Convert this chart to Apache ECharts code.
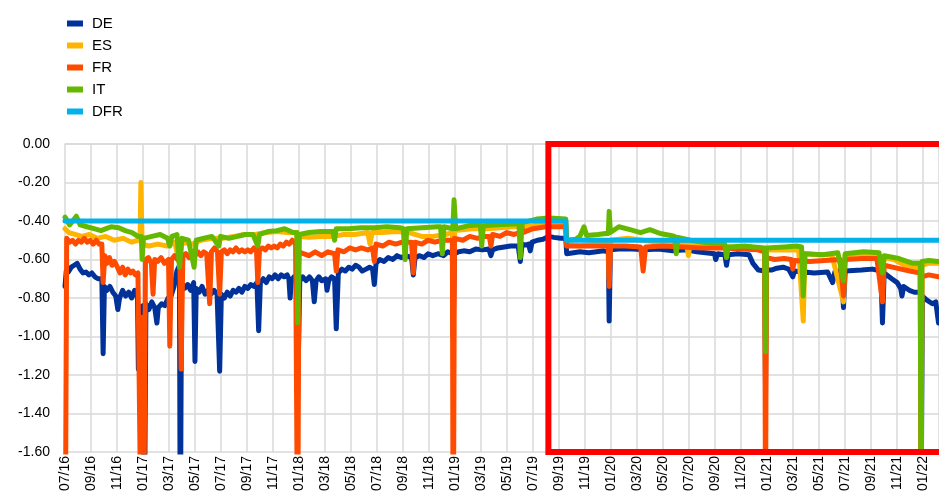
<!DOCTYPE html>
<html>
<head>
<meta charset="utf-8">
<script src="https://cdn.jsdelivr.net/npm/echarts@6/dist/echarts.min.js"></script>
<style>
  html, body { margin: 0; padding: 0; background: #fff; }
  #chart { width: 939px; height: 502px; }
</style>
</head>
<body>
<div id="chart"></div>
<script>
// tick labels of the x axis, one every two months from 07/16
var xTickLabels = ['07/16','09/16','11/16','01/17','03/17','05/17','07/17','09/17','11/17',
  '01/18','03/18','05/18','07/18','09/18','11/18','01/19','03/19','05/19','07/19','09/19',
  '11/19','01/20','03/20','05/20','07/20','09/20','11/20','01/21','03/21','05/21','07/21',
  '09/21','11/21','01/22'];
var startDate = '2016-07-01';
var endDate = '2022-02-08';

// red frame (date range and value range)
var boxStart = '2019-08-07';
var boxEnd = '2022-06-01';
var boxTop = 0.0;
var boxBottom = -1.6;

var de = [
  ['2016-07-01',-0.74],['2016-07-04',-0.66],['2016-07-09',-0.665],['2016-07-16',-0.64],['2016-07-23',-0.63],
  ['2016-07-30',-0.62],['2016-08-06',-0.65],['2016-08-13',-0.67],['2016-08-20',-0.665],['2016-08-27',-0.68],
  ['2016-09-03',-0.67],['2016-09-10',-0.69],['2016-09-17',-0.70],['2016-09-26',-0.70],['2016-09-29',-1.09],
  ['2016-10-02',-0.74],['2016-10-08',-0.76],['2016-10-15',-0.74],['2016-10-22',-0.77],['2016-10-29',-0.79],
  ['2016-11-03',-0.86],['2016-11-07',-0.80],['2016-11-14',-0.76],['2016-11-21',-0.79],['2016-11-28',-0.77],
  ['2016-12-05',-0.80],['2016-12-12',-0.76],['2016-12-17',-0.78],['2016-12-19',-0.80],['2016-12-21',-1.17],
  ['2016-12-24',-0.85],['2017-01-01',-0.84],['2017-01-04',-2.2],['2017-01-08',-0.83],['2017-01-15',-0.86],
  ['2017-01-22',-0.82],['2017-01-29',-0.85],['2017-02-01',-0.86],['2017-02-03',-0.93],['2017-02-06',-0.85],
  ['2017-02-13',-0.83],['2017-02-20',-0.84],['2017-02-27',-0.80],['2017-03-06',-0.79],['2017-03-13',-0.74],
  ['2017-03-20',-0.66],['2017-03-24',-0.64],['2017-03-26',-0.67],['2017-03-28',-2.2],['2017-03-31',-0.72],
  ['2017-04-07',-0.75],['2017-04-14',-0.73],['2017-04-21',-0.76],['2017-04-28',-0.72],['2017-05-01',-1.13],
  ['2017-05-04',-0.75],['2017-05-11',-0.77],['2017-05-18',-0.74],['2017-05-25',-0.78],['2017-06-01',-0.76],
  ['2017-06-08',-0.78],['2017-06-15',-0.76],['2017-06-22',-0.78],['2017-06-28',-1.18],['2017-07-02',-0.78],
  ['2017-07-09',-0.80],['2017-07-16',-0.77],['2017-07-23',-0.79],['2017-07-30',-0.76],['2017-08-06',-0.77],
  ['2017-08-13',-0.75],['2017-08-20',-0.77],['2017-08-27',-0.74],['2017-09-03',-0.75],['2017-09-10',-0.73],
  ['2017-09-17',-0.74],['2017-09-24',-0.72],['2017-09-28',-0.97],['2017-10-02',-0.72],['2017-10-09',-0.70],
  ['2017-10-16',-0.72],['2017-10-23',-0.69],['2017-10-30',-0.70],['2017-11-06',-0.68],['2017-11-13',-0.70],
  ['2017-11-20',-0.68],['2017-11-27',-0.69],['2017-12-04',-0.68],['2017-12-08',-0.70],['2017-12-11',-0.80],
  ['2017-12-14',-0.71],['2017-12-20',-0.69],['2017-12-26',-0.72],['2017-12-29',-1.30],['2018-01-03',-0.71],
  ['2018-01-10',-0.69],['2018-01-18',-0.71],['2018-01-26',-0.69],['2018-02-02',-0.71],['2018-02-06',-0.82],
  ['2018-02-10',-0.71],['2018-02-16',-0.69],['2018-02-22',-0.71],['2018-03-03',-0.70],['2018-03-06',-0.76],
  ['2018-03-10',-0.71],['2018-03-17',-0.69],['2018-03-24',-0.70],['2018-03-28',-0.96],['2018-04-02',-0.67],
  ['2018-04-10',-0.65],['2018-04-18',-0.66],['2018-04-26',-0.64],['2018-05-04',-0.65],['2018-05-12',-0.63],
  ['2018-05-20',-0.64],['2018-05-28',-0.66],['2018-06-06',-0.65],['2018-06-14',-0.64],['2018-06-21',-0.65],
  ['2018-06-25',-0.73],['2018-06-29',-0.62],['2018-07-08',-0.60],['2018-07-18',-0.61],['2018-07-28',-0.59],
  ['2018-08-08',-0.60],['2018-08-18',-0.58],['2018-08-28',-0.59],['2018-09-08',-0.58],['2018-09-21',-0.59],
  ['2018-09-25',-0.68],['2018-09-29',-0.59],['2018-10-10',-0.58],['2018-10-20',-0.59],['2018-10-30',-0.57],
  ['2018-11-10',-0.58],['2018-11-22',-0.57],['2018-12-05',-0.58],['2018-12-15',-0.56],['2018-12-26',-0.57],
  ['2018-12-28',-1.00],['2018-12-31',-0.57],['2019-01-10',-0.56],['2019-01-22',-0.555],['2019-02-05',-0.56],
  ['2019-02-18',-0.545],['2019-03-05',-0.55],['2019-03-20',-0.545],['2019-03-25',-0.58],['2019-03-29',-0.55],
  ['2019-04-10',-0.54],['2019-04-25',-0.535],['2019-05-10',-0.53],['2019-05-28',-0.53],['2019-06-02',-0.61],
  ['2019-06-06',-0.52],['2019-06-14',-0.525],['2019-06-21',-0.52],['2019-06-25',-0.555],['2019-06-29',-0.51],
  ['2019-07-12',-0.50],['2019-07-25',-0.495],['2019-08-08',-0.48],['2019-08-20',-0.485],['2019-09-05',-0.49],
  ['2019-09-17',-0.49],['2019-09-19',-0.57],['2019-10-05',-0.565],['2019-10-20',-0.56],['2019-11-10',-0.565],
  ['2019-11-28',-0.56],['2019-12-15',-0.555],['2019-12-26',-0.56],['2019-12-28',-0.92],['2019-12-31',-0.55],
  ['2020-01-20',-0.545],['2020-02-20',-0.545],['2020-03-20',-0.55],['2020-04-20',-0.545],['2020-05-25',-0.555],
  ['2020-06-25',-0.55],['2020-07-20',-0.56],['2020-08-10',-0.565],['2020-08-31',-0.57],['2020-09-03',-0.60],
  ['2020-09-08',-0.57],['2020-09-24',-0.575],['2020-09-28',-0.63],['2020-10-02',-0.575],['2020-10-25',-0.57],
  ['2020-11-20',-0.575],['2020-11-29',-0.62],['2020-12-12',-0.655],['2020-12-27',-0.66],['2020-12-29',-1.30],
  ['2020-12-31',-0.655],['2021-01-12',-0.655],['2021-01-25',-0.645],['2021-02-08',-0.64],['2021-02-20',-0.65],
  ['2021-03-01',-0.69],['2021-03-05',-0.66],['2021-03-22',-0.665],['2021-03-26',-0.72],['2021-03-30',-0.665],
  ['2021-04-20',-0.67],['2021-05-22',-0.665],['2021-06-03',-0.72],['2021-06-08',-0.665],['2021-06-24',-0.66],
  ['2021-06-28',-0.85],['2021-07-02',-0.66],['2021-08-10',-0.655],['2021-09-05',-0.65],['2021-09-24',-0.66],
  ['2021-09-28',-0.93],['2021-10-02',-0.67],['2021-10-20',-0.70],['2021-11-02',-0.72],['2021-11-10',-0.75],
  ['2021-11-13',-0.79],['2021-11-17',-0.74],['2021-11-30',-0.76],['2021-12-12',-0.77],['2021-12-27',-0.77],
  ['2021-12-29',-1.60],['2021-12-31',-0.79],['2022-01-10',-0.81],['2022-01-24',-0.83],['2022-02-01',-0.82],
  ['2022-02-07',-0.93]
];

var es = [
  ['2016-07-01',-0.44],['2016-07-10',-0.46],['2016-07-25',-0.47],['2016-08-10',-0.48],['2016-08-28',-0.47],
  ['2016-09-15',-0.49],['2016-10-05',-0.48],['2016-10-25',-0.50],['2016-11-15',-0.49],['2016-12-05',-0.51],
  ['2016-12-20',-0.50],['2016-12-25',-0.50],['2016-12-27',-0.20],['2016-12-30',-0.52],['2017-01-15',-0.53],
  ['2017-02-05',-0.52],['2017-02-25',-0.53],['2017-03-15',-0.51],['2017-03-26',-0.62],['2017-04-01',-0.51],
  ['2017-04-25',-0.52],['2017-05-15',-0.50],['2017-06-10',-0.49],['2017-07-05',-0.49],['2017-08-01',-0.48],
  ['2017-08-25',-0.47],['2017-09-20',-0.47],['2017-10-15',-0.46],['2017-11-10',-0.455],['2017-12-05',-0.46],
  ['2017-12-27',-0.46],['2017-12-29',-0.80],['2018-01-02',-0.48],['2018-01-25',-0.485],['2018-02-20',-0.48],
  ['2018-03-20',-0.48],['2018-04-15',-0.47],['2018-05-10',-0.47],['2018-06-10',-0.46],['2018-06-15',-0.52],
  ['2018-06-20',-0.46],['2018-07-15',-0.46],['2018-08-15',-0.455],['2018-09-15',-0.46],['2018-10-15',-0.48],
  ['2018-11-10',-0.48],['2018-12-10',-0.47],['2018-12-26',-0.46],['2018-12-28',-0.60],['2019-01-01',-0.45],
  ['2019-02-10',-0.44],['2019-03-15',-0.44],['2019-04-15',-0.435],['2019-05-15',-0.43],['2019-06-15',-0.43],
  ['2019-07-15',-0.42],['2019-08-15',-0.405],['2019-09-17',-0.41],['2019-09-19',-0.52],['2019-10-20',-0.53],
  ['2019-11-20',-0.52],['2019-12-20',-0.52],['2019-12-26',-0.52],['2019-12-28',-0.70],['2019-12-31',-0.50],
  ['2020-02-10',-0.49],['2020-03-15',-0.50],['2020-04-20',-0.51],['2020-05-20',-0.51],['2020-06-26',-0.52],
  ['2020-06-30',-0.58],['2020-07-04',-0.52],['2020-08-15',-0.53],['2020-09-20',-0.53],['2020-10-20',-0.54],
  ['2020-11-20',-0.54],['2020-12-15',-0.545],['2020-12-27',-0.545],['2020-12-29',-1.20],['2020-12-31',-0.55],
  ['2021-02-10',-0.55],['2021-03-15',-0.55],['2021-03-26',-0.92],['2021-03-30',-0.57],['2021-05-01',-0.575],
  ['2021-06-01',-0.575],['2021-06-28',-0.82],['2021-07-02',-0.575],['2021-08-15',-0.57],['2021-09-20',-0.575],
  ['2021-09-28',-0.68],['2021-10-02',-0.59],['2021-10-25',-0.60],['2021-11-20',-0.63],['2021-12-15',-0.64],
  ['2021-12-26',-0.64],['2021-12-28',-1.90],['2021-12-30',-0.63],['2022-01-15',-0.62],['2022-02-07',-0.62]
];

var fr = [
  ['2016-07-01',-2.5],['2016-07-05',-0.49],['2016-07-12',-0.51],['2016-07-19',-0.50],['2016-07-26',-0.52],
  ['2016-08-02',-0.50],['2016-08-09',-0.51],['2016-08-16',-0.49],['2016-08-23',-0.51],['2016-08-30',-0.50],
  ['2016-09-06',-0.52],['2016-09-13',-0.50],['2016-09-20',-0.52],['2016-09-26',-0.52],['2016-09-29',-0.72],
  ['2016-10-03',-0.58],['2016-10-08',-0.62],['2016-10-14',-0.59],['2016-10-20',-0.63],['2016-10-26',-0.61],
  ['2016-11-02',-0.64],['2016-11-08',-0.67],['2016-11-14',-0.64],['2016-11-20',-0.68],['2016-11-26',-0.65],
  ['2016-12-02',-0.67],['2016-12-08',-0.66],['2016-12-14',-0.68],['2016-12-20',-0.67],['2016-12-27',-2.0],
  ['2016-12-30',-0.90],['2017-01-03',-2.0],['2017-01-07',-0.60],['2017-01-14',-0.59],['2017-01-21',-0.62],
  ['2017-01-25',-0.78],['2017-01-29',-0.60],['2017-02-05',-0.61],['2017-02-12',-0.59],['2017-02-19',-0.62],
  ['2017-02-28',-0.60],['2017-03-03',-1.05],['2017-03-07',-0.60],['2017-03-14',-0.58],['2017-03-21',-0.60],
  ['2017-03-27',-0.58],['2017-03-30',-1.17],['2017-04-03',-0.58],['2017-04-10',-0.57],['2017-04-17',-0.59],
  ['2017-04-24',-0.56],['2017-05-01',-0.58],['2017-05-08',-0.56],['2017-05-15',-0.58],['2017-05-22',-0.56],
  ['2017-05-29',-0.57],['2017-06-05',-0.83],['2017-06-09',-0.56],['2017-06-16',-0.54],['2017-06-23',-0.56],
  ['2017-06-28',-0.78],['2017-07-02',-0.56],['2017-07-09',-0.55],['2017-07-16',-0.57],['2017-07-23',-0.55],
  ['2017-07-30',-0.56],['2017-08-06',-0.54],['2017-08-13',-0.56],['2017-08-20',-0.55],['2017-08-27',-0.56],
  ['2017-09-03',-0.55],['2017-09-10',-0.56],['2017-09-17',-0.54],['2017-09-23',-0.55],['2017-09-26',-0.72],
  ['2017-09-30',-0.55],['2017-10-07',-0.54],['2017-10-14',-0.55],['2017-10-21',-0.53],['2017-10-28',-0.54],
  ['2017-11-04',-0.53],['2017-11-11',-0.54],['2017-11-18',-0.52],['2017-11-25',-0.53],['2017-12-02',-0.51],
  ['2017-12-09',-0.52],['2017-12-16',-0.50],['2017-12-24',-0.52],['2017-12-29',-2.2],['2018-01-01',-0.56],
  ['2018-01-12',-0.57],['2018-01-25',-0.58],['2018-02-08',-0.56],['2018-02-22',-0.58],['2018-03-08',-0.56],
  ['2018-03-24',-0.57],['2018-03-28',-0.66],['2018-04-01',-0.55],['2018-04-15',-0.56],['2018-04-28',-0.54],
  ['2018-05-12',-0.55],['2018-05-26',-0.54],['2018-06-10',-0.55],['2018-06-21',-0.54],['2018-06-25',-0.61],
  ['2018-06-29',-0.52],['2018-07-15',-0.53],['2018-07-30',-0.51],['2018-08-15',-0.52],['2018-08-30',-0.51],
  ['2018-09-21',-0.51],['2018-09-25',-0.67],['2018-09-29',-0.51],['2018-10-15',-0.52],['2018-10-30',-0.50],
  ['2018-11-15',-0.51],['2018-12-01',-0.50],['2018-12-26',-0.50],['2018-12-28',-2.3],['2018-12-31',-0.49],
  ['2019-01-20',-0.50],['2019-02-05',-0.48],['2019-02-22',-0.49],['2019-03-10',-0.48],['2019-03-21',-0.48],
  ['2019-03-25',-0.53],['2019-03-29',-0.47],['2019-04-15',-0.48],['2019-05-01',-0.46],['2019-05-18',-0.47],
  ['2019-06-01',-0.46],['2019-06-04',-0.41],['2019-06-08',-0.46],['2019-07-01',-0.44],['2019-08-01',-0.43],
  ['2019-09-17',-0.43],['2019-09-19',-0.53],['2019-10-20',-0.53],['2019-11-20',-0.53],['2019-12-26',-0.53],
  ['2019-12-28',-0.74],['2019-12-31',-0.53],['2020-02-05',-0.53],['2020-03-10',-0.535],['2020-03-16',-0.66],
  ['2020-03-22',-0.535],['2020-05-01',-0.53],['2020-06-15',-0.535],['2020-08-01',-0.54],['2020-09-20',-0.54],
  ['2020-11-01',-0.545],['2020-12-10',-0.55],['2020-12-27',-0.56],['2020-12-29',-2.0],['2020-12-31',-0.59],
  ['2021-01-20',-0.60],['2021-02-10',-0.595],['2021-02-26',-0.60],['2021-03-01',-0.65],['2021-03-05',-0.605],
  ['2021-04-10',-0.61],['2021-05-15',-0.605],['2021-06-20',-0.60],['2021-06-28',-0.79],['2021-07-02',-0.60],
  ['2021-08-10',-0.595],['2021-09-15',-0.595],['2021-09-28',-0.82],['2021-10-02',-0.63],['2021-11-01',-0.645],
  ['2021-12-01',-0.66],['2021-12-26',-0.67],['2021-12-28',-2.0],['2021-12-30',-0.69],['2022-01-15',-0.68],
  ['2022-02-07',-0.69]
];

var it = [
  ['2016-07-01',-0.38],['2016-07-12',-0.42],['2016-07-28',-0.375],['2016-08-06',-0.42],['2016-08-22',-0.43],
  ['2016-09-08',-0.44],['2016-09-24',-0.45],['2016-10-06',-0.44],['2016-10-18',-0.43],['2016-11-05',-0.435],
  ['2016-11-20',-0.45],['2016-12-06',-0.46],['2016-12-20',-0.48],['2016-12-28',-0.48],['2016-12-30',-0.60],
  ['2017-01-02',-0.49],['2017-01-22',-0.48],['2017-02-10',-0.47],['2017-02-26',-0.49],['2017-03-03',-0.53],
  ['2017-03-08',-0.48],['2017-03-20',-0.47],['2017-03-26',-0.64],['2017-04-01',-0.49],['2017-04-16',-0.50],
  ['2017-04-29',-0.64],['2017-05-04',-0.50],['2017-05-20',-0.49],['2017-06-10',-0.48],['2017-06-26',-0.53],
  ['2017-06-30',-0.48],['2017-07-20',-0.49],['2017-08-10',-0.48],['2017-08-28',-0.47],['2017-09-15',-0.47],
  ['2017-09-26',-0.53],['2017-09-30',-0.47],['2017-10-20',-0.455],['2017-11-10',-0.45],['2017-11-28',-0.44],
  ['2017-12-18',-0.46],['2017-12-27',-0.46],['2017-12-29',-0.93],['2018-01-02',-0.47],['2018-01-25',-0.46],
  ['2018-02-20',-0.455],['2018-03-20',-0.455],['2018-03-24',-0.50],['2018-03-28',-0.44],['2018-04-25',-0.44],
  ['2018-05-25',-0.435],['2018-06-25',-0.435],['2018-07-25',-0.43],['2018-08-25',-0.435],['2018-09-02',-0.44],
  ['2018-09-06',-0.60],['2018-09-10',-0.44],['2018-10-15',-0.435],['2018-11-20',-0.43],['2018-11-28',-0.43],
  ['2018-12-02',-0.57],['2018-12-06',-0.43],['2018-12-27',-0.44],['2018-12-30',-0.29],['2019-01-03',-0.44],
  ['2019-02-01',-0.425],['2019-02-28',-0.42],['2019-03-03',-0.53],['2019-03-07',-0.425],['2019-04-10',-0.42],
  ['2019-05-20',-0.415],['2019-05-30',-0.415],['2019-06-02',-0.59],['2019-06-06',-0.41],['2019-07-10',-0.39],
  ['2019-08-10',-0.385],['2019-09-17',-0.39],['2019-09-19',-0.50],['2019-10-10',-0.495],['2019-10-20',-0.48],
  ['2019-10-30',-0.43],['2019-11-05',-0.475],['2019-12-01',-0.47],['2019-12-20',-0.465],['2019-12-26',-0.465],
  ['2019-12-28',-0.35],['2019-12-31',-0.46],['2020-01-20',-0.43],['2020-02-15',-0.445],['2020-03-10',-0.46],
  ['2020-04-01',-0.445],['2020-04-25',-0.465],['2020-05-20',-0.475],['2020-05-29',-0.48],['2020-06-02',-0.57],
  ['2020-06-06',-0.485],['2020-07-05',-0.50],['2020-08-05',-0.51],['2020-09-03',-0.515],['2020-09-24',-0.52],
  ['2020-09-28',-0.59],['2020-10-02',-0.535],['2020-11-10',-0.53],['2020-12-01',-0.535],['2020-12-27',-0.54],
  ['2020-12-29',-1.08],['2020-12-31',-0.54],['2021-02-10',-0.535],['2021-03-10',-0.53],['2021-03-22',-0.535],
  ['2021-03-26',-0.79],['2021-03-30',-0.57],['2021-05-10',-0.575],['2021-06-15',-0.565],['2021-06-28',-0.71],
  ['2021-07-02',-0.57],['2021-08-15',-0.56],['2021-09-20',-0.565],['2021-09-28',-0.67],['2021-10-02',-0.58],
  ['2021-11-06',-0.595],['2021-12-08',-0.62],['2021-12-26',-0.62],['2021-12-28',-2.0],['2021-12-30',-0.61],
  ['2022-01-15',-0.605],['2022-02-07',-0.61]
];

var dfr = [
  ['2016-07-01',-0.40],['2019-09-17',-0.40],['2019-09-18',-0.50],['2022-02-08',-0.50]
];

// date string -> months since July 2016 (the x scale of the chart)
function toMonth(s){
    var p = s.split('-'), y = +p[0], mo = +p[1], d = +p[2];
    var dim = new Date(y, mo, 0).getDate();
    return (y - 2016) * 12 + (mo - 7) + (d - 1) / dim;
}
function pts(arr){
    return arr.map(function(r){ return [toMonth(r[0]), r[1]]; });
}

var font = 'Liberation Sans, Arial, sans-serif';
var gridColor = '#d9d9d9';

function line(name, color, data, width){
    return {
        name: name, type: 'line', data: pts(data),
        showSymbol: false, symbol: 'none', clip: true,
        itemStyle: {color: color},
        lineStyle: {color: color, width: width, join: 'round', cap: 'round'},
        emphasis: {disabled: true}
    };
}

var series = [
    line('DE', '#003299', de, 5),
    line('ES', '#FFB400', es, 5),
    line('FR', '#FF4B00', fr, 5),
    line('IT', '#65B800', it, 5),
    line('DFR', '#00B1EA', dfr, 5)
];
series.push({
    name: 'box', type: 'line', silent: true, clip: true,
    showSymbol: false, symbol: 'none',
    data: pts([[boxEnd, boxTop], [boxStart, boxTop], [boxStart, boxBottom], [boxEnd, boxBottom]]),
    lineStyle: {color: '#FF0000', width: 6, join: 'miter'},
    itemStyle: {color: '#FF0000'}
});

var option = {
    animation: false,
    backgroundColor: '#fff',
    textStyle: {fontFamily: font},
    legend: {
        data: ['DE', 'ES', 'FR', 'IT', 'DFR'],
        orient: 'vertical', left: 62, top: 11,
        icon: 'rect', itemWidth: 16, itemHeight: 6, itemGap: 7,
        selectedMode: false,
        textStyle: {fontSize: 15, color: '#000', fontFamily: font, padding: [0, 0, 0, 4]}
    },
    grid: {left: 65, right: 0, top: 144, bottom: 50, containLabel: false},
    xAxis: {
        type: 'value',
        min: toMonth(startDate), max: toMonth(endDate), interval: 2,
        axisLine: {show: true, lineStyle: {color: gridColor, width: 1.5}},
        axisTick: {show: false},
        axisLabel: {
            rotate: 90, margin: 4, fontSize: 14, color: '#000', fontFamily: font,
            showMaxLabel: false,
            formatter: function(v){
                var i = Math.round(v / 2);
                return Math.abs(v - i * 2) < 1e-6 && xTickLabels[i] ? xTickLabels[i] : '';
            }
        },
        splitLine: {show: true, lineStyle: {color: gridColor, width: 1.5}}
    },
    yAxis: {
        type: 'value', min: -1.6, max: 0, interval: 0.2,
        axisLine: {show: false},
        axisTick: {show: false},
        axisLabel: {
            margin: 15, fontSize: 14, color: '#000', fontFamily: font,
            formatter: function(v){ return v.toFixed(2); }
        },
        splitLine: {show: true, lineStyle: {color: gridColor, width: 1.5}}
    },
    series: series
};

echarts.init(document.getElementById('chart'), null, {renderer: 'canvas'}).setOption(option);
</script>
</body>
</html>
